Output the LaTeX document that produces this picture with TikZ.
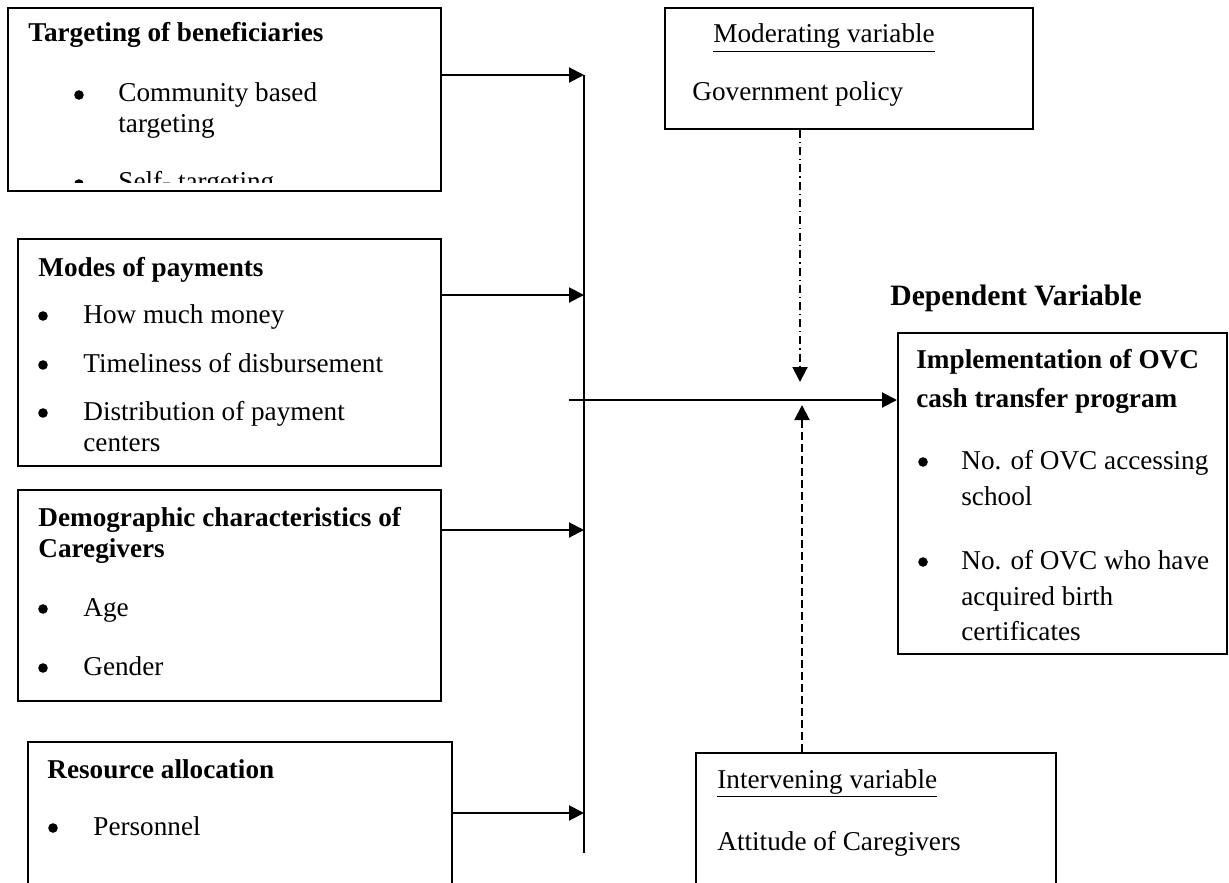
\documentclass[tikz,border=0pt]{standalone}
\usepackage{fontspec}
\setmainfont{Liberation Serif}
\usetikzlibrary{arrows.meta,fit}
\begin{document}
\begin{tikzpicture}[x=0.5pt,y=-0.5pt,
  box/.style={draw, line width=1pt, inner sep=0pt},
  txt/.style={inner sep=0pt, anchor=base west, font=\fontsize{13.6pt}{16pt}\selectfont},
  ttl/.style={inner sep=0pt, anchor=base west, font=\fontsize{13.6pt}{16pt}\selectfont\bfseries},
  bigttl/.style={inner sep=0pt, anchor=base west, font=\fontsize{14.8pt}{18pt}\selectfont\bfseries},
  bul/.style={circle, fill=black, inner sep=0pt, minimum size=4.8pt},
  conn/.style={line width=1pt},
  arr/.style={conn, -{Triangle[length=7.5pt,width=7.5pt]}},
  dashdotline/.style={dash pattern=on 4pt off 2pt on 0.6pt off 2pt},
  dashline/.style={dash pattern=on 4pt off 2pt}
]
\useasboundingbox (0,0) rectangle (1229,882);

% boxes
\node[box, fit={(8,8) (441,191)}] (T) {};
\node[box, fit={(18,239) (441,466)}] (M) {};
\node[box, fit={(18,490) (441,701)}] (D) {};
\node[box, fit={(28,742) (452,900)}] (R) {};
\node[box, fit={(665,8) (1033,129)}] (Mod) {};
\node[box, fit={(898,333) (1227,654)}] (I) {};
\node[box, fit={(696,753) (1056,900)}] (Int) {};

% Targeting
\node[ttl] (t0) at (28,42) {Targeting of beneficiaries};
\node[bul] (tb1) at (79,95) {};
\node[txt] (t1) at (118,102) {Community based};
\node[txt] (t2) at (118,133) {targeting};
\begin{scope}
  \clip (8,8) rectangle (441,183);
  \node[bul] (tb3) at (79,184) {};
  \node[txt] (t3) at (118,191) {Self- targeting};
\end{scope}

% Modes
\node[ttl] (m0) at (38,276) {Modes of payments};
\node[bul] (mb1) at (43,316) {};
\node[txt] (m1) at (83,323) {How much money};
\node[bul] (mb2) at (43,365) {};
\node[txt] (m2) at (83,372) {Timeliness of disbursement};
\node[bul] (mb3) at (43,413) {};
\node[txt] (m3) at (83,420) {Distribution of payment};
\node[txt] (m4) at (83,451) {centers};

% Demographic
\node[ttl] (d0) at (38,526) {Demographic characteristics of};
\node[ttl] (d1) at (38,557) {Caregivers};
\node[bul] (db1) at (43,609) {};
\node[txt] (d2) at (83,616) {Age};
\node[bul] (db2) at (43,668) {};
\node[txt] (d3) at (83,675) {Gender};

% Resource
\node[ttl] (r0) at (47,778) {Resource allocation};
\node[bul] (rb1) at (53,828) {};
\node[txt] (r1) at (93,835) {Personnel};

% Moderating
\node[txt] (mo0) at (713,43) {\underline{Moderating variable}};
\node[txt] (mo1) at (692,101) {Government policy};

% Dependent
\node[bigttl] (dep) at (890,305) {Dependent Variable};
\node[ttl] (i0) at (916,368) {Implementation of OVC};
\node[ttl] (i1) at (916,407) {cash transfer program};
\node[bul] (ib1) at (923,462) {};
\node[txt] (i2) at (961,469) {No. of OVC accessing};
\node[txt] (i3) at (961,505) {school};
\node[bul] (ib2) at (923,562) {};
\node[txt] (i4) at (961,569) {No. of OVC who have};
\node[txt] (i5) at (961,605) {acquired birth};
\node[txt] (i6) at (961,640) {certificates};

% Intervening
\node[txt] (in0) at (717,788) {\underline{Intervening variable}};
\node[txt] (in1) at (717,850) {Attitude of Caregivers};

% connectors
\coordinate (b1) at (584,75);
\coordinate (b2) at (584,295);
\coordinate (b3) at (584,530);
\coordinate (b4) at (584,813);
\coordinate (busbot) at (584,853);
\coordinate (mstart) at (569,400);
\coordinate (modtip) at (800,382);
\coordinate (inttip) at (802,405);

\draw[conn] (b1) -- (busbot);
\draw[arr] (T.east |- b1) -- (b1);
\draw[arr] (M.east |- b2) -- (b2);
\draw[arr] (D.east |- b3) -- (b3);
\draw[arr] (R.east |- b4) -- (b4);
\draw[arr] (mstart) -- (I.west |- mstart);
\draw[arr, dashdotline] (modtip |- Mod.south) -- (modtip);
\draw[arr, dashline] (inttip |- Int.north) -- (inttip);
\end{tikzpicture}
\end{document}
